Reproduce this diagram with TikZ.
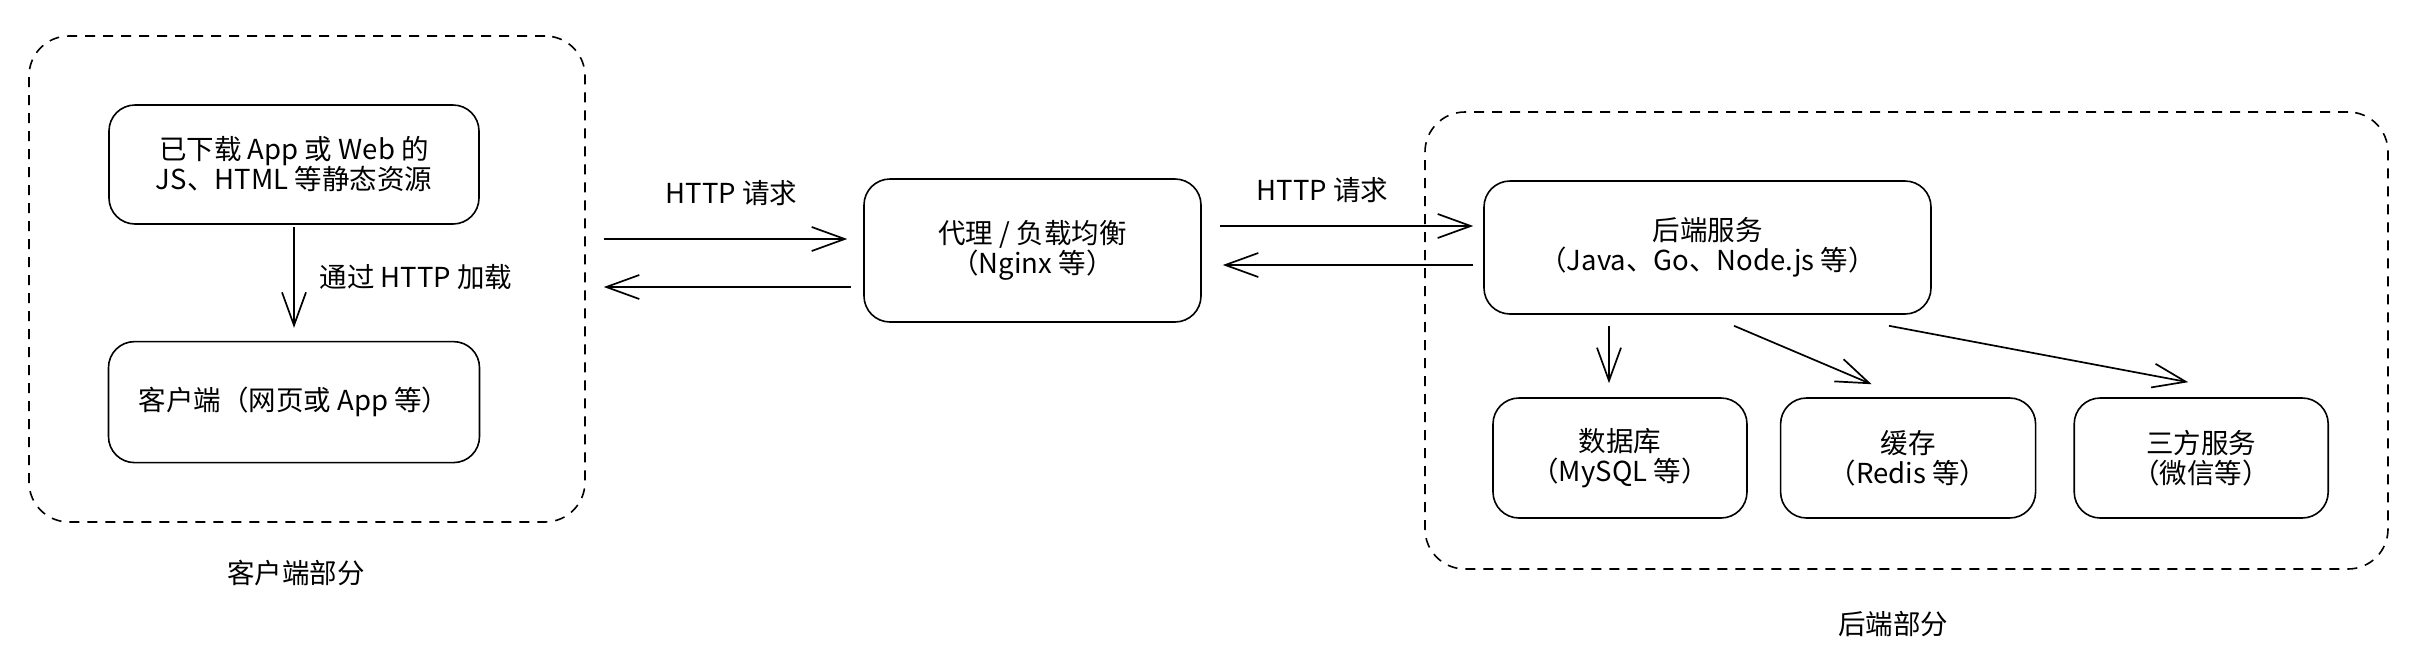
\documentclass[tikz,border=0pt]{standalone}
\usepackage{fontspec}
\setmainfont{Noto Sans CJK SC}
\usetikzlibrary{arrows.meta, positioning}

\begin{document}
\begin{tikzpicture}[x=0.5pt, y=-0.5pt, node distance=16pt,
        font=\fontsize{13.75pt}{15pt}\selectfont,
        box/.style={draw, rectangle, rounded corners=13pt, line width=0.8pt, align=center, inner sep=0pt},
        part/.style={draw, rectangle, rounded corners=20pt, dash pattern=on 5pt off 4pt, line width=0.8pt},
        arr/.style={line width=0.85pt, -{Straight Barb[length=16.5pt, width=12pt]}}]
        \useasboundingbox (0,0) rectangle (2416,670);

        \node (clientpart) [part, minimum width=278pt, minimum height=243pt] at (307,279) {};
        \node (load) [box, minimum width=185pt, minimum height=59.5pt] at (294,164.5) {已下载 App 或 Web 的\\JS、HTML 等静态资源};
        \node (client) [box, below=58pt of load, minimum width=185.5pt, minimum height=60.5pt] {客户端（网页或 App 等）};
        \node (clientlabel) [below=15pt of clientpart, xshift=-5.5pt] {客户端部分};

        \node (proxy) [box, minimum width=168.5pt, minimum height=71.5pt] at (1032.5,250.5) {代理 / 负载均衡\\（Nginx 等）};

        \node (backendpart) [part, minimum width=481.5pt, minimum height=228.5pt] at (1906.5,340.5) {};
        \node (backend) [box, minimum width=223.5pt, minimum height=66.5pt] at (1707.5,247.5) {后端服务\\（Java、Go、Node.js 等）};
        \node (db) [box, minimum width=127pt, minimum height=60pt] at (1620,458) {数据库\\（MySQL 等）};
        \node (cache) [box, right=16pt of db, minimum width=127.5pt, minimum height=60pt] {缓存\\（Redis 等）};
        \node (third) [box, right=18.5pt of cache, minimum width=127pt, minimum height=60pt] {三方服务\\（微信等）};
        \node (backendlabel) [below=17pt of backendpart, xshift=-6.75pt] {后端部分};

        \draw[arr] ([yshift=-1pt]load.south) -- node[right=9pt] (loadtext) {通过 HTTP 加载} ([yshift=6.5pt]client.north);

        \draw[arr] ([xshift=9pt, yshift=20pt]clientpart.east) -- node[above=13pt, xshift=3pt] (reqleft) {HTTP 请求} ([xshift=-8pt, yshift=5.75pt]proxy.west);
        \draw[arr] ([xshift=-6pt, yshift=-18.25pt]proxy.west) -- ([xshift=9pt, yshift=-4pt]clientpart.east);

        \draw[arr] ([xshift=9pt, yshift=12.25pt]proxy.east) -- node[above=8pt, xshift=-12pt] (reqright) {HTTP 请求} ([xshift=-5pt, yshift=10.75pt]backend.west);
        \draw[arr] ([xshift=-5pt, yshift=-8.75pt]backend.west) -- ([xshift=10.5pt, yshift=-7.25pt]proxy.east);

        \draw[arr] ([xshift=-49.25pt, yshift=-5.5pt]backend.south) -- ([xshift=-5.5pt, yshift=7pt]db.north);
        \draw[arr] ([xshift=13.25pt, yshift=-5.5pt]backend.south) -- ([xshift=-18.25pt, yshift=6.5pt]cache.north);
        \draw[arr] ([xshift=90.75pt, yshift=-5.5pt]backend.south) -- ([xshift=-6.5pt, yshift=7.5pt]third.north);
    \end{tikzpicture}
\end{document}
